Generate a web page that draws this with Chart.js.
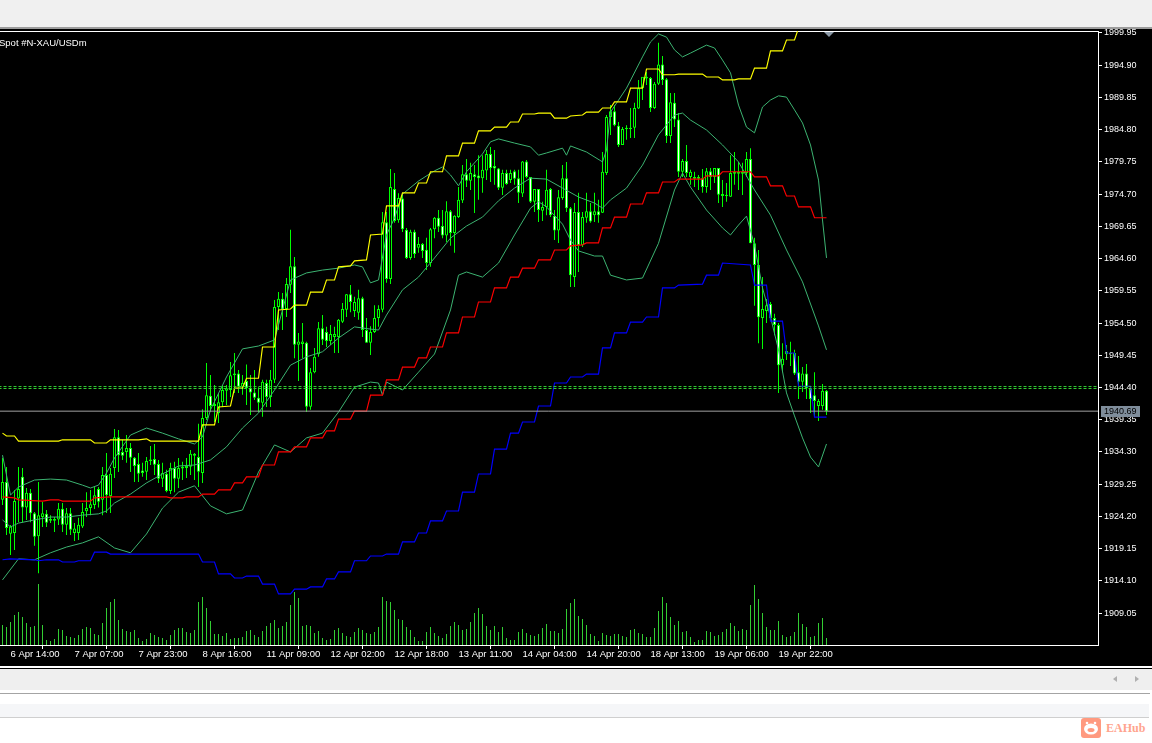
<!DOCTYPE html>
<html>
<head>
<meta charset="utf-8">
<title>Spot #N-XAU/USDm</title>
<script src="https://cdn.jsdelivr.net/npm/chart.js@4/dist/chart.umd.min.js"></script>
<style>
  html, body { margin: 0; padding: 0; background: #fff; width: 1152px; height: 743px; overflow: hidden; }
  div, canvas, span, svg { position: absolute; display: block; }
  #topbar { left: 0; top: 0; width: 1152px; height: 27px; background: #f0f0f0; border-bottom: 2px solid #9c9c9c; }
  #chart { left: 0; top: 29px; background: #000; }
  #symbol { left: -1px; top: 37px; color: #fff; font: 9.5px "Liberation Sans", sans-serif; white-space: nowrap; }
  #shift { left: 824px; top: 32px; width: 0; height: 0; border-left: 5px solid transparent; border-right: 5px solid transparent; border-top: 5px solid #8a98a6; }
  #rule1 { left: 0; top: 666px; width: 1152px; height: 2px; background: #fff; }
  #rule2 { left: 0; top: 668px; width: 1152px; height: 1px; background: #000; }
  #tabs { left: 0; top: 669px; width: 1152px; height: 21px; background: #efefef; }
  #rule3 { left: 0; top: 693px; width: 1150px; height: 1px; background: #a4a4a4; }
  #strip { left: 0; top: 704px; width: 1149px; height: 13px; background: #f5f6f8; border-bottom: 1px solid #cfcfcf; }
  #arrowL { left: 1113px; top: 676px; width: 0; height: 0; border-top: 3px solid transparent; border-bottom: 3px solid transparent; border-right: 4px solid #b0b0b0; }
  #arrowR { left: 1135px; top: 676px; width: 0; height: 0; border-top: 3px solid transparent; border-bottom: 3px solid transparent; border-left: 4px solid #b0b0b0; }
  #brand { left: 1106px; top: 721px; color: #ffa48e; font: bold 12px "Liberation Serif", serif; }
</style>
</head>
<body>
<div id="topbar"></div>
<canvas id="chart" width="1152" height="637"></canvas>
<span id="symbol">Spot #N-XAU/USDm</span>
<div id="shift"></div>
<div id="rule1"></div>
<div id="rule2"></div>
<div id="tabs"></div>
<div id="arrowL"></div>
<div id="arrowR"></div>
<div id="rule3"></div>
<div id="strip"></div>
<svg style="left:1081px;top:718px" width="20" height="20" viewBox="0 0 20 20">
  <rect width="20" height="20" rx="3" fill="#ff9a80"/>
  <circle cx="6" cy="5" r="1.3" fill="#fff"/><circle cx="14" cy="5" r="1.3" fill="#fff"/>
  <ellipse cx="10" cy="11" rx="7" ry="5.5" fill="#fff"/>
  <ellipse cx="10" cy="12" rx="3.5" ry="2" fill="#ff9a80"/>
</svg>
<span id="brand">EAHub</span>
<script>
// Candles, one value per bar
const open = [
  1926.8,1929.6,1921.5,1921.6,1927,1930.4,1925.6,1927.9,1924.7,1921.1,
  1924.1,1924.6,1923.5,1923.5,1923.7,1925.4,1922.9,1924.7,1921.6,1921.6,
  1922.6,1925,1925.5,1926,1928.5,1926.8,1930.7,1927.4,1931.8,1936.6,
  1934.3,1934.3,1934.9,1933.4,1932.4,1931.4,1931.2,1932.9,1933.2,1932.4,
  1930.1,1930.9,1928.2,1931.8,1930.1,1931.7,1931.8,1932,1934,1933.5,
  1931,1939.6,1943.1,1941.5,1940.4,1942.1,1943.9,1944,1946.3,1946.6,
  1944.5,1945.4,1944.3,1943.6,1942.8,1942,1945.1,1942.9,1945.6,1957,
  1958.3,1956.7,1960.5,1963.4,1951.1,1951.2,1951.4,1941.4,1946.8,1949.6,
  1953.7,1953.1,1951.7,1952.3,1952.3,1954.7,1956.6,1959,1956.4,1956.1,
  1958.4,1953.4,1951.4,1953.1,1955.3,1956.6,1970.3,1961.4,1975.5,1970.6,
  1974,1969.1,1964.7,1968.8,1966.3,1966.9,1966,1963.9,1969.2,1971,
  1969.7,1968.2,1972,1968.6,1971.1,1973.7,1977.8,1976.8,1977.8,1977.6,
  1977.2,1978.4,1981,1979.1,1978.7,1975.7,1978,1976.9,1978.3,1977.2,
  1974.8,1979.8,1977.4,1973.5,1975.5,1972.1,1972.7,1975.5,1971.3,1969,
  1974.1,1977.2,1972.5,1961.7,1971.9,1966.7,1971,1972,1971.4,1972,
  1971.8,1978,1986.8,1987.7,1985.4,1982.4,1984.9,1984.9,1985.1,1988.1,
  1991.3,1992.8,1992.9,1988.2,1992,1995,1992.7,1983.8,1989,1986.4,
  1978.2,1979.9,1977.4,1977.1,1977.1,1977.2,1975.8,1978.3,1977.4,1978.8,
  1974.7,1974.4,1974.3,1977.9,1977.9,1977.9,1978,1980.2,1967,1963.6,
  1955.3,1956.4,1957.5,1955.3,1954.2,1947.9,1949.6,1949.6,1949.8,1946.8,
  1945.3,1946.6,1944.2,1943.2,1941.5,1941.5,1943.9
];
const high = [
  1933.35,1931.95,1922.85,1928.35,1931.95,1931.8,1928.65,1928.5,1924.9,1929.6,
  1926.45,1925.2,1924.4,1924.1,1926.3,1926.3,1925.5,1925.5,1923.15,1924,
  1926.3,1928,1928.35,1928.8,1928.8,1931.95,1934.15,1931.8,1937.9,1937.75,
  1936.2,1936.95,1935.7,1933.5,1934.15,1932.6,1933.5,1935.25,1935.55,1933.05,
  1932.6,1931.5,1932.6,1932.75,1933.35,1932.75,1933.35,1934.6,1934.15,1938.7,
  1941,1948.25,1946.35,1944.8,1943.55,1944.8,1944.8,1948.4,1949.8,1947.15,
  1946.35,1948,1946.35,1947.15,1944.45,1945.6,1945.6,1947.15,1958.1,1959.35,
  1959.2,1961.55,1969.1,1964.85,1952.95,1954.5,1951.55,1947.45,1950.6,1954.65,
  1955.75,1953.9,1954.2,1953.9,1955.15,1957.65,1959.05,1960.45,1958.6,1959.7,
  1958.6,1955.3,1954,1957.3,1957.3,1971.9,1971.9,1978.65,1978,1974.85,
  1974.85,1969.4,1969.1,1969.1,1968,1967.05,1967.85,1969.4,1971.1,1972.2,
  1972.2,1973.6,1972.2,1971.4,1975.8,1979.25,1980.2,1979.6,1979.25,1980.8,
  1980.8,1981.6,1982.1,1981.6,1978.8,1978.5,1978.5,1978.5,1978.5,1978.5,
  1979.9,1980.05,1977.4,1975.5,1975.5,1973.5,1978.5,1975.65,1972.2,1975.35,
  1979.25,1979.75,1972.7,1973.3,1974.9,1971.9,1974.9,1973.3,1974.9,1973.8,
  1981.3,1987.1,1988.65,1988.65,1986,1985.2,1985.5,1988.2,1989,1992.6,
  1993.05,1993.85,1993.05,1992.25,1998.4,1996.35,1992.9,1990.55,1990.55,1987.4,
  1980.2,1982.4,1978.5,1978.2,1977.7,1978.65,1978.8,1978.8,1978.8,1978.8,
  1976.9,1976.45,1980.8,1981.3,1979.75,1979.6,1981.3,1981.9,1967.85,1965.95,
  1961.7,1958.25,1957.8,1955.95,1954.5,1951.35,1951.05,1951.55,1950.3,1949.35,
  1947.6,1948.1,1944.45,1946.8,1942.6,1944.95,1944
];
const low = [
  1926,1921.3,1918.15,1918.95,1923.3,1923.3,1923.65,1923.3,1919.6,1915.3,
  1922.55,1922.55,1923.15,1921.75,1922.85,1921.75,1921.3,1921.3,1920.35,1920.5,
  1922.4,1924.1,1924.4,1925.35,1925.6,1924.4,1924.75,1924.75,1930.2,1931.15,
  1933.05,1932.6,1931.15,1929.6,1929.6,1930.4,1929.9,1932.25,1930.7,1929.45,
  1928.8,1928,1927.7,1928,1928.65,1929.9,1930.2,1930.7,1929.9,1928.8,
  1929.45,1939.3,1940.55,1939,1938.85,1941.35,1941.65,1942.9,1943.55,1943.55,
  1943.25,1941.65,1940.1,1942.45,1940.55,1939.8,1941.35,1941.35,1945.1,1953.4,
  1953.4,1955.45,1959.2,1949,1945.4,1949,1940.55,1940.9,1946.65,1949.2,
  1951.05,1950.75,1951.05,1949.8,1949.8,1954.5,1955.45,1956.2,1955.45,1955,
  1952.3,1951.4,1949.5,1952.95,1953.9,1956.2,1960.8,1960.6,1970.2,1970.2,
  1968.75,1964.55,1964.4,1964.7,1965.5,1964.7,1962.8,1963.3,1967.8,1968.75,
  1967.8,1967.2,1966.6,1965.5,1970.95,1973.3,1975.8,1975.35,1971.75,1973.8,
  1974.9,1976.9,1976.6,1976.15,1975.35,1974.55,1976.15,1976.45,1976.15,1973.3,
  1974.25,1977.2,1973.3,1971.9,1970.35,1970.5,1971.4,1971.1,1967.5,1967.05,
  1973.8,1971.9,1960.15,1960.15,1962.5,1966.4,1970.2,1970.2,1970.35,1970.2,
  1971.75,1977.7,1983.95,1985.35,1982.1,1982.4,1983.2,1983.5,1983.5,1988.05,
  1989.45,1991.8,1987.55,1988.05,1991.8,1991.8,1982.7,1982.7,1985.2,1977.4,
  1977.4,1977.4,1976.15,1975.8,1975.35,1974.9,1974.9,1975.35,1976.45,1973.3,
  1972.7,1973.5,1974.25,1976.15,1975.35,1974.55,1977.4,1967,1957.2,1951.35,
  1950.45,1954.5,1955,1952.6,1943.55,1946.8,1948.7,1947.75,1946.35,1942.6,
  1943.7,1942.6,1940.4,1939.8,1939.15,1940.9,1940.1
];
const close = [
  1929.6,1922.4,1922.6,1926.6,1928.5,1925.6,1927.9,1924.7,1921,1924.4,
  1924.7,1923.2,1923.8,1923.8,1925.4,1922.9,1924.7,1922.1,1922.3,1922.9,
  1924.9,1925.5,1926.1,1927.5,1926.5,1930.7,1927.5,1930.9,1936.6,1933.8,
  1933.7,1934.9,1933.4,1932.1,1930.9,1931,1932.9,1933.1,1932.3,1930.1,
  1931,1928.2,1931.8,1930.1,1931.8,1932,1932.1,1934,1933.7,1931.2,
  1939.6,1943.2,1941.5,1941.8,1942.1,1944,1944.3,1946.3,1946.6,1944.5,
  1945.1,1944.3,1943.6,1942.8,1942,1945.3,1942.9,1945.6,1957,1958.3,
  1956.6,1960.6,1963.4,1951.1,1951.6,1951.6,1941.4,1946.8,1949.2,1953.7,
  1951.9,1951.7,1952.8,1952.8,1955,1956.7,1959,1957.8,1957.8,1958.4,
  1953.4,1951.4,1953.1,1955.3,1956.7,1970.3,1961.4,1975.8,1970.5,1974.1,
  1969.2,1964.7,1968.8,1965.3,1966.9,1965.8,1963.9,1969.2,1971,1969.6,
  1968.2,1972,1968.6,1971.3,1973.8,1977.8,1976.8,1978,1977.4,1977.2,
  1978.5,1981,1978.8,1978.7,1975.7,1978,1976.3,1978,1977.1,1974.9,
  1979.8,1977.4,1973.5,1975.5,1972.2,1972.7,1975.4,1971.4,1969,1974.2,
  1977.2,1972.5,1962,1971.9,1966.7,1971.1,1972,1970.4,1972,1971.4,
  1978.2,1986.8,1987.7,1985.5,1982.4,1984.9,1985.1,1985.1,1988.2,1991.3,
  1993.1,1993.1,1988.2,1992,1995,1992.6,1983.8,1989.1,1986.4,1978.2,
  1979.9,1978,1978.2,1977.4,1977.4,1975.8,1978.3,1977.4,1978.8,1974.6,
  1974.4,1974.6,1978,1978.2,1978.2,1978.2,1980.2,1967,1963.6,1955.4,
  1956.7,1957.3,1955.3,1954.2,1947.9,1948.9,1950.1,1949.8,1946.6,1945.3,
  1946.6,1944.3,1942.6,1942.3,1942.3,1943.9,1940.69
];
// Tick volume
const volume = [
  200,180,230,300,330,280,220,180,190,610,
  200,50,40,60,160,150,90,80,70,100,
  160,180,170,110,100,220,370,430,460,250,
  160,140,130,150,70,40,60,120,100,80,
  70,50,100,150,170,170,130,120,150,430,
  480,370,240,110,110,90,120,60,70,70,
  80,140,150,100,80,140,190,220,250,170,
  190,230,400,530,470,190,200,190,120,140,
  70,50,60,150,170,120,90,80,130,170,
  150,120,110,130,180,480,440,430,350,260,
  250,180,150,80,40,40,130,180,120,90,
  70,110,190,230,200,150,160,230,320,370,
  310,190,150,190,130,180,70,50,50,130,
  160,120,100,90,110,170,210,140,140,120,
  160,360,420,460,290,260,200,110,90,40,
  120,100,90,110,110,90,80,150,160,120,
  110,80,80,170,340,480,420,280,200,240,
  130,140,80,30,50,50,140,130,90,100,
  130,160,220,190,140,160,150,400,600,460,
  320,180,150,150,240,100,80,90,130,320,
  210,180,80,90,220,270,70
];

const upperBars = [0,2,4,8,12,16,20,22,24,26,28,32,36,40,44,48,50,52,56,60,64,68,70,72,76,80,84,88,90,92,94,96,98,100,104,108,110,112,114,116,120,122,124,128,132,134,136,140,141,142,146,150,151,152,156,160,162,164,166,168,170,172,176,178,180,182,184,186,188,190,192,194,196,198,200,202,204,205,206];
const upperBand = [1933.8,1927.55,1928.8,1929.9,1930.05,1929.9,1929.1,1928.65,1929.1,1931,1933.35,1936.95,1938.05,1937.25,1936.35,1935.55,1936.65,1940.9,1946.05,1950.45,1950.9,1951.85,1956.55,1961.25,1962.35,1962.8,1963.1,1963.6,1963.3,1960.8,1961.25,1968.3,1970.95,1974.7,1976.75,1978.35,1978.95,1977.7,1976,1978.2,1981,1982.9,1983.35,1982.7,1982.1,1980.8,1981.15,1981.9,1980.8,1982.25,1981.3,1979.75,1981.6,1987.55,1991.3,1996.2,1998.55,1999.8,1999.3,1997.3,1996.2,1996.8,1998.05,1997.6,1995.7,1993.7,1988.65,1985.2,1984.3,1988.35,1989.45,1990.1,1989.9,1987.9,1985.85,1982.4,1976.9,1970.65,1964.7];
const midBars = [0,2,4,8,12,16,20,24,26,28,32,36,40,44,48,52,56,60,64,68,72,76,80,84,88,92,94,96,100,104,108,112,116,120,124,128,132,136,140,144,148,150,152,156,160,164,168,170,172,176,180,184,188,192,196,200,204,206];
const midBand = [1923.65,1922.55,1923.15,1923.65,1924.1,1924.1,1924.4,1924.6,1925.05,1926.3,1927.7,1929.45,1930.85,1932.1,1932.25,1933.05,1935.1,1938.05,1940.4,1944,1947.9,1949.2,1950,1952.15,1953.9,1953.55,1953.4,1955.75,1959.7,1961.7,1964.7,1967.8,1969.7,1971.1,1973.65,1975.65,1977.2,1977.05,1975.65,1974.25,1973.3,1972.5,1973.8,1975.65,1979.25,1984,1987.1,1987.4,1986.3,1984.75,1982.4,1979.75,1975.35,1971.4,1965.95,1960.95,1954.05,1950.3];
const lowerBars = [0,4,8,12,16,20,24,28,32,36,40,44,48,52,56,60,64,68,72,76,80,84,88,92,94,95,96,100,104,108,112,114,116,120,124,128,132,134,136,140,142,144,148,150,152,156,160,164,168,170,172,176,180,182,184,186,188,190,192,194,196,198,200,202,204,206];
const lowerBand = [1914.25,1917.55,1917.4,1918.5,1919.4,1920.05,1921,1919.25,1918.5,1921.45,1925.5,1928,1929,1925.85,1924.6,1925.2,1931.15,1935.4,1934.3,1936.5,1937.25,1940.55,1944.45,1945.25,1945.1,1943.2,1945.25,1944,1946.8,1949.65,1956.55,1962,1962.5,1961.7,1963.9,1968.3,1972.5,1973.5,1972.7,1970,1967.5,1965.8,1965,1965,1962,1961.25,1961.55,1967,1975.35,1978,1975.8,1972.2,1969.4,1968.3,1969.85,1971.25,1966.7,1960,1955.45,1950.3,1943.55,1939.95,1936.5,1933.5,1931.95,1935.55];

// Stepped channel lines, start and end bar of each flat piece
const yellowBars = [0,1,3,4,14,15,22,23,26,27,34,36,37,49,50,53,54,57,58,60,61,64,65,68,69,72,73,76,77,80,81,83,84,87,88,91,92,95,96,99,100,103,104,106,107,110,111,114,115,118,119,122,123,126,127,129,130,133,134,137,138,141,142,145,146,149,150,152,153,156,157,160,161,164,165,168,169,175,176,179,180,183,184,187,188,191,192,195,196,198,199];
const yellowLine = [1937.25,1936.8,1936.8,1936,1936,1936.2,1936.2,1935.7,1935.7,1936.2,1936.2,1936.35,1936,1936,1938.55,1938.55,1941.35,1941.5,1944.3,1944.3,1945.85,1945.85,1950.75,1950.75,1956.55,1956.7,1957.3,1957.3,1959.35,1959.35,1961.25,1961.25,1963.3,1963.45,1964.25,1964.4,1968.3,1968.45,1972.85,1972.85,1974.9,1974.9,1976.45,1976.45,1978.2,1978.2,1980.7,1980.7,1982.7,1982.7,1984.6,1984.6,1985.2,1985.2,1986,1986,1987.25,1987.25,1987.4,1987.4,1986.6,1986.6,1986.95,1987.1,1987.55,1987.55,1988.2,1988.2,1989.15,1989.15,1991.3,1991.3,1994.3,1994.3,1993.4,1993.4,1993.5,1993.5,1993.05,1993.05,1992.6,1992.6,1992.75,1992.75,1994.45,1994.45,1997.15,1997.15,1998.85,1998.85,2000.7];
const redBars = [0,3,4,10,12,14,15,22,23,27,41,42,45,46,49,50,53,54,57,58,60,61,64,65,68,69,72,73,76,77,80,81,83,84,87,88,91,92,95,96,99,100,103,104,106,107,110,111,114,115,118,119,122,123,126,127,129,130,133,134,137,138,141,142,145,146,149,150,152,153,156,157,160,161,164,165,168,169,175,176,179,180,187,188,191,192,195,196,198,199,202,203,206];
const redLine = [1927.25,1927.1,1926.8,1926.6,1926.8,1926.8,1926.6,1926.6,1927.1,1927.25,1927.25,1927.1,1927.1,1927.25,1927.25,1927.7,1927.7,1928.35,1928.35,1929.45,1929.45,1930.4,1930.4,1932.25,1932.25,1934.3,1934.3,1935.1,1935.1,1936.5,1936.5,1937.6,1937.6,1939.45,1939.45,1940.7,1940.7,1943.2,1943.2,1945.6,1945.6,1947.6,1947.6,1949.05,1949.05,1950.75,1950.75,1952.95,1952.95,1955.45,1955.45,1957.8,1957.8,1960,1960,1961.7,1961.7,1963.1,1963.1,1964.4,1964.4,1965.95,1965.95,1966.6,1966.75,1967.05,1967.05,1969.4,1969.4,1971.1,1971.1,1973.15,1973.15,1974.9,1974.9,1976.6,1976.6,1977.05,1977.05,1977.55,1977.55,1978.2,1978.2,1977.4,1977.4,1976,1976,1974.4,1974.4,1972.7,1972.7,1971,1971];
const blueBars = [0,2,8,9,11,14,15,18,19,22,23,26,27,49,50,53,54,57,58,60,61,64,65,68,69,72,73,76,77,80,81,83,84,87,88,91,92,95,96,99,100,103,104,106,107,110,111,114,115,118,119,122,123,126,127,129,130,133,134,137,138,141,142,145,146,149,150,152,153,156,157,160,161,164,165,168,169,175,176,179,180,187,188,191,192,195,196,198,199,202,203,206];
const blueLine = [1917.4,1917.55,1917.4,1917.25,1917.4,1917.4,1917.05,1917.05,1917.25,1917.25,1918.6,1918.6,1918.3,1918.3,1917.05,1917.05,1915.2,1915.2,1914.55,1914.55,1914.85,1914.85,1913.6,1913.6,1912.05,1912.05,1912.8,1912.8,1913.15,1913.15,1914.4,1914.4,1915.5,1915.5,1917.25,1917.25,1918,1918,1918.3,1918.3,1920.2,1920.2,1921.6,1921.6,1923.5,1923.5,1925.05,1925.05,1928,1928,1930.85,1930.85,1934.75,1934.75,1937.25,1937.25,1939,1939,1941.5,1941.5,1945.1,1945.1,1946.05,1946.05,1946.5,1946.5,1950.6,1950.6,1952.95,1952.95,1954.65,1954.65,1955.45,1955.45,1960,1960,1960.45,1960.6,1962,1962,1963.9,1963.6,1960.45,1960.45,1954.8,1954.8,1949.8,1949.8,1944.6,1944.6,1939.75,1939.75];

// Levels and axis labels
const levelA = 1944.55;
const levelB = 1944.24;
const lastPrice = 1940.69;
const priceTicks = [1999.95,1994.90,1989.85,1984.80,1979.75,1974.70,1969.65,1964.60,1959.55,1954.50,1949.45,1944.40,1939.35,1934.30,1929.25,1924.20,1919.15,1914.10,1909.05];
const timeTickBars = [2,18,34,50,66,82,98,114,130,146,162,178,194];
const timeLabels = ['6 Apr 14:00','7 Apr 07:00','7 Apr 23:00','8 Apr 16:00','11 Apr 09:00','12 Apr 02:00','12 Apr 18:00','13 Apr 11:00','14 Apr 04:00','14 Apr 20:00','18 Apr 13:00','19 Apr 06:00','19 Apr 22:00'];

const bandColor = '#3cb371';
const candleGreen = '#00ff00';
const volumeGreen = '#32cd32';

function pairs(xs, ys) {
    return xs.map((x, i) => ({ x: x, y: ys[i] }));
}

function lineSet(label, xs, ys, color, width) {
    return {
        type: 'line',
        label: label,
        data: pairs(xs, ys),
        borderColor: color,
        borderWidth: width,
        pointRadius: 0,
        tension: 0,
        order: 1
    };
}

function levelSet(label, value, color, dash) {
    return {
        type: 'line',
        label: label,
        data: [{ x: -1, y: value }, { x: 274, y: value }],
        borderColor: color,
        borderWidth: 1,
        borderDash: dash,
        pointRadius: 0,
        order: 0
    };
}

const bars = open.map((_, i) => i);

// white body for a falling bar, black for a rising one, green outline on both
const bodyColors = open.map((o, i) => close[i] < o ? '#ffffff' : '#000000');

const frame = {
    id: 'frame',
    beforeDatasetsDraw(chart) {
        const a = chart.chartArea, c = chart.ctx;
        c.save();
        c.strokeStyle = '#ffffff';
        c.lineWidth = 1;
        c.strokeRect(-1, a.top + 0.5, a.right + 1.5, a.bottom - a.top);
        c.restore();
    },
    afterDraw(chart) {
        const c = chart.ctx, y = chart.scales.y.getPixelForValue(lastPrice);
        c.save();
        c.fillStyle = '#7f8d9b';
        c.fillRect(1101, Math.round(y) - 5, 39, 11);
        c.fillStyle = '#000000';
        c.font = '9px "Liberation Sans", sans-serif';
        c.textBaseline = 'middle';
        c.fillText(lastPrice.toFixed(2), 1104, Math.round(y) + 1);
        c.restore();
    }
};

new Chart(document.getElementById('chart'), {
    type: 'bar',
    data: {
        datasets: [
            levelSet('level a', levelA, volumeGreen, [3, 2]),
            levelSet('level b', levelB, volumeGreen, [3, 2]),
            levelSet('last', lastPrice, '#a0a0a0', []),
            lineSet('channel high', yellowBars, yellowLine, '#ffff00', 1.15),
            lineSet('channel mid', redBars, redLine, '#ff0000', 1.15),
            lineSet('channel low', blueBars, blueLine, '#0000ff', 1.15),
            lineSet('bb upper', upperBars, upperBand, bandColor, 1),
            lineSet('bb mid', midBars, midBand, bandColor, 1),
            lineSet('bb lower', lowerBars, lowerBand, bandColor, 1),
            {
                label: 'body',
                data: bars.map(i => ({ x: i, y: [open[i], close[i]] })),
                backgroundColor: bodyColors,
                borderColor: candleGreen,
                borderWidth: 1,
                borderSkipped: false,
                inflateAmount: 0,
                barThickness: 3,
                grouped: false,
                order: 2
            },
            {
                label: 'wick',
                data: bars.map(i => ({ x: i, y: [low[i], high[i]] })),
                backgroundColor: candleGreen,
                inflateAmount: 0,
                barThickness: 1,
                grouped: false,
                order: 3
            },
            {
                label: 'volume',
                data: bars.map(i => ({ x: i, y: volume[i] })),
                yAxisID: 'yVol',
                backgroundColor: volumeGreen,
                inflateAmount: 0,
                barThickness: 1,
                grouped: false,
                order: 4
            }
        ]
    },
    options: {
        responsive: false,
        animation: false,
        devicePixelRatio: 1,
        events: [],
        layout: { padding: { top: 2, left: 0, right: 0, bottom: 0 } },
        plugins: { legend: { display: false }, tooltip: { enabled: false } },
        scales: {
            x: {
                type: 'linear',
                offset: false,
                min: -0.625,
                max: 273.875,
                afterBuildTicks: s => { s.ticks = timeTickBars.map(v => ({ value: v })); },
                afterFit: s => { s.height = 21; s.paddingLeft = 0; s.paddingRight = 0; },
                border: { display: false },
                grid: { drawOnChartArea: false, color: '#ffffff', tickLength: 4, tickColor: '#ffffff' },
                ticks: {
                    color: '#ffffff',
                    font: { family: '"Liberation Sans", sans-serif', size: 9.5 },
                    padding: 0,
                    align: 'start',
                    autoSkip: false,
                    maxRotation: 0,
                    callback: (v, i) => timeLabels[i]
                }
            },
            y: {
                position: 'right',
                min: 1904.05,
                max: 2000.26,
                afterBuildTicks: s => { s.ticks = priceTicks.map(v => ({ value: v })); },
                afterFit: s => { s.width = 54; s.paddingTop = 0; s.paddingBottom = 0; },
                border: { display: false },
                grid: { drawOnChartArea: false, color: '#ffffff', tickLength: 4, tickColor: '#ffffff' },
                ticks: {
                    color: '#ffffff',
                    font: { family: '"Liberation Sans", sans-serif', size: 9 },
                    padding: 2,
                    autoSkip: false,
                    callback: v => v.toFixed(2)
                }
            },
            yVol: { display: false, min: 0, max: 6140 }
        }
    },
    plugins: [frame]
});
</script>
</body>
</html>
